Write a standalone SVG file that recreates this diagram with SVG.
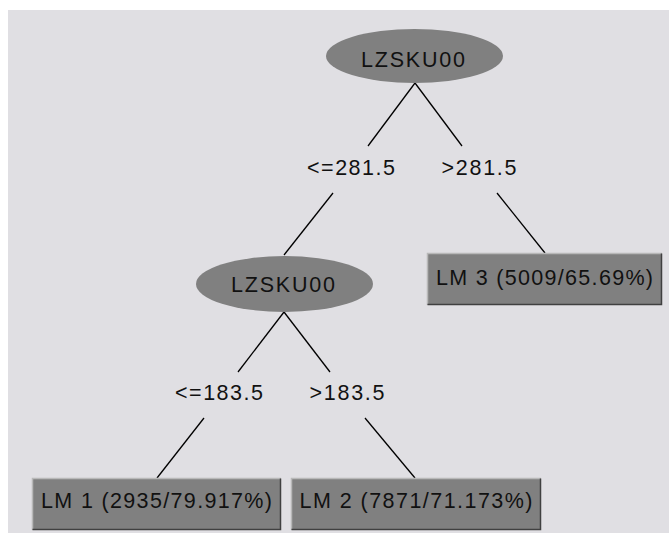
<svg xmlns="http://www.w3.org/2000/svg" width="669" height="533" viewBox="0 0 669 533">
<style>
.t{font-family:"Liberation Sans",Arial,sans-serif;font-size:21.5px;fill:#111;text-anchor:middle}
.e{fill:#808080}
.b{fill:#808080}
.hl{stroke:#b8b8b8;stroke-width:1.5;fill:none}
.sh{stroke:#404040;stroke-width:1.5;fill:none}
.c line{stroke:#000;stroke-width:1.3}
</style>
<rect x="0" y="0" width="669" height="533" fill="#ffffff"/>
<rect x="8" y="10" width="661" height="523" fill="#e0dfe3"/>
<g class="c" id="connectors">
<line x1="415" y1="83" x2="368" y2="146"/>
<line x1="415" y1="83" x2="462" y2="146"/>
<line x1="333" y1="193" x2="284" y2="255"/>
<line x1="497" y1="193" x2="545" y2="253"/>
<line x1="284" y1="312" x2="238" y2="372"/>
<line x1="284" y1="312" x2="330" y2="372"/>
<line x1="204" y1="418" x2="157" y2="478"/>
<line x1="365" y1="418" x2="415" y2="478"/>
</g>
<g id="labels">
<text class="t" x="351" y="175" textLength="88">&lt;=281.5</text>
<text class="t" x="479" y="175" textLength="75">&gt;281.5</text>
<text class="t" x="219" y="400" textLength="88">&lt;=183.5</text>
<text class="t" x="347" y="400" textLength="75">&gt;183.5</text>
</g>
<g id="n1">
<ellipse class="e" cx="414.5" cy="56" rx="88.5" ry="27"/>
<text class="t" x="413" y="67" textLength="104">LZSKU00</text>
</g>
<g id="n2">
<ellipse class="e" cx="284.5" cy="284" rx="88.5" ry="28"/>
<text class="t" x="283" y="292" textLength="104">LZSKU00</text>
</g>
<g id="n3">
<rect class="b" x="427" y="253" width="235" height="52"/>
<polyline class="hl" points="427.5,305 427.5,253.5 662,253.5"/>
<polyline class="sh" points="427.5,304.5 661.5,304.5 661.5,253.5"/>
<text class="t" x="544.5" y="285" textLength="217">LM 3 (5009/65.69%)</text>
</g>
<g id="n4">
<rect class="b" x="32" y="478" width="249" height="52"/>
<polyline class="hl" points="32.5,530 32.5,478.5 281,478.5"/>
<polyline class="sh" points="32.5,529.5 280.5,529.5 280.5,478.5"/>
<text class="t" x="156.5" y="508" textLength="231">LM 1 (2935/79.917%)</text>
</g>
<g id="n5">
<rect class="b" x="291" y="478" width="250" height="52"/>
<polyline class="hl" points="291.5,530 291.5,478.5 541,478.5"/>
<polyline class="sh" points="291.5,529.5 540.5,529.5 540.5,478.5"/>
<text class="t" x="416" y="508" textLength="233">LM 2 (7871/71.173%)</text>
</g>
</svg>
